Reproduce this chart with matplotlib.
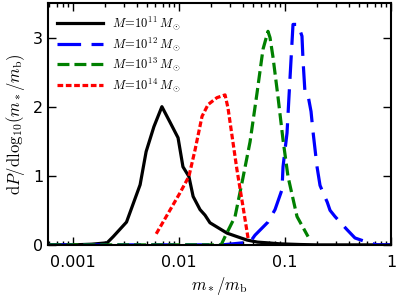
import numpy as np
import matplotlib
matplotlib.use("Agg")
import matplotlib.pyplot as plt

plt.rcParams["mathtext.fontset"] = "cm"
plt.rcParams["lines.scale_dashes"] = False

# M = 1e11 Msun
x11 = [0.0006, 0.001, 0.0015, 0.0021, 0.0024, 0.0032, 0.0043, 0.0049, 0.0058, 0.0069,
       0.0082, 0.0098, 0.0109, 0.0124, 0.0136, 0.0158, 0.0176, 0.0196, 0.0233, 0.0284,
       0.0352, 0.0438, 0.055, 0.068, 0.09, 0.14, 0.2, 1.0]
y11 = [0.0, 0.0, 0.01, 0.03, 0.12, 0.33, 0.87, 1.35, 1.71, 2.0,
       1.78, 1.55, 1.13, 0.99, 0.70, 0.51, 0.43, 0.32, 0.25, 0.17,
       0.12, 0.07, 0.04, 0.03, 0.015, 0.005, 0.0, 0.0]

# M = 1e12 Msun
x12 = [0.0006, 0.0255, 0.0468, 0.0521, 0.0691, 0.0805, 0.0937, 0.0958, 0.1045, 0.109,
       0.114, 0.119, 0.1327, 0.1446, 0.1478, 0.1544, 0.165, 0.176, 0.184, 0.2005,
       0.214, 0.2385, 0.25, 0.266, 0.2963, 0.3846, 0.457, 0.594, 0.738, 1.0]
y12 = [0.0, 0.0, 0.04, 0.14, 0.33, 0.51, 0.80, 1.13, 1.62, 2.14,
       2.68, 3.19, 3.19, 3.02, 2.68, 2.2, 2.16, 1.93, 1.63, 1.13,
       0.86, 0.69, 0.62, 0.50, 0.41, 0.22, 0.10, 0.04, 0.0, 0.0]

# M = 1e13 Msun
x13 = [0.0006, 0.025, 0.0272, 0.0338, 0.0393, 0.0468, 0.0545, 0.062, 0.0691, 0.0722,
       0.077, 0.0859, 0.0958, 0.1067, 0.1298, 0.165]
y13 = [0.0, 0.0, 0.12, 0.41, 0.90, 1.49, 2.2, 2.83, 3.09, 3.0,
       2.72, 2.14, 1.52, 0.99, 0.41, 0.12]

# M = 1e14 Msun
x14 = [0.0061, 0.0102, 0.0124, 0.0142, 0.0165, 0.0188, 0.0228, 0.0272, 0.029, 0.0352,
       0.0402, 0.0448]
y14 = [0.16, 0.75, 0.99, 1.38, 1.86, 2.03, 2.13, 2.17, 1.98, 1.09,
       0.55, 0.1]

labels = [r"$M\!=\!10^{11}\,M_\odot$", r"$M\!=\!10^{12}\,M_\odot$",
          r"$M\!=\!10^{13}\,M_\odot$", r"$M\!=\!10^{14}\,M_\odot$"]

fig = plt.figure(figsize=(3.99, 2.99), dpi=100)
ax = fig.add_axes([0.120, 0.181, 0.860, 0.809])

lw = 2.3
ax.plot(x11, y11, color="k", lw=lw, label=labels[0])
ax.plot(x12, y12, color="b", lw=lw, dashes=(17, 7.5), dash_capstyle="butt", label=labels[1])
ax.plot(x13, y13, color=(0, 0.5, 0), lw=lw, dashes=(8.6, 3.6), dash_capstyle="butt", label=labels[2])
ax.plot(x14, y14, color="r", lw=lw, dashes=(4.1, 1.9), dash_capstyle="butt", label=labels[3])

ax.set_xscale("log")
ax.set_xlim(0.00058, 1.0)
ax.set_ylim(0, 3.5)
ax.set_xticks([0.001, 0.01, 0.1, 1])
ax.set_xticklabels(["0.001", "0.01", "0.1", "1"])
ax.set_yticks([0, 1, 2, 3])

ax.tick_params(which="both", direction="in", top=True, right=True, labelsize=11.5)
ax.tick_params(which="major", length=6, width=1)
ax.tick_params(which="minor", length=3, width=1)
ax.tick_params(axis="x", pad=7)
for s in ax.spines.values():
    s.set_linewidth(1.5)

ax.set_xlabel(r"$m_*/m_\mathrm{b}$", fontsize=12)
ax.set_ylabel(r"$\mathrm{d}P/\mathrm{dlog}_{10}(m_*/m_\mathrm{b})$", fontsize=12)

ax.legend(loc="upper left", bbox_to_anchor=(0.012, 0.975), borderaxespad=0,
          frameon=False, fontsize=9, handlelength=3.7,
          labelspacing=0.25, handletextpad=0.7)

fig.savefig("out.png", dpi=100)
